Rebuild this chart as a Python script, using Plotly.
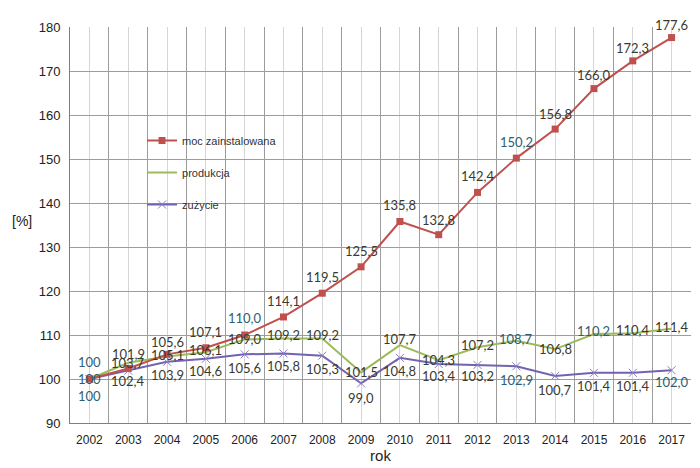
import plotly.graph_objects as go

years = list(range(2002, 2018))
moc = [100, 102.4, 105.6, 107.1, 110.0, 114.1, 119.5, 125.5, 135.8, 132.8, 142.4, 150.2, 156.8, 166.0, 172.3, 177.6]
produkcja = [100, 103.7, 105.1, 106.1, 109.0, 109.2, 109.2, 101.5, 107.7, 104.3, 107.2, 108.7, 106.8, 110.2, 110.4, 111.4]
zuzycie = [100, 101.9, 103.9, 104.6, 105.6, 105.8, 105.3, 99.0, 104.8, 103.4, 103.2, 102.9, 100.7, 101.4, 101.4, 102.0]
names = ["moc zainstalowana", "produkcja", "zużycie"]


def fmt(v, first):
    return "100" if first else f"{v:.1f}".replace(".", ",")


def labels(vals):
    return [fmt(v, i == 0) for i, v in enumerate(vals)]


TEAL = "#2e5e6e"
DARK = "#3a3a30"

# label vertical offsets in pixels (style only)
moc_shift = [0, -13, 12, 16, 17, 16, 16, 16, 16, 15, 16, 16, 15, 14, 13, 13]
prod_shift = [17, 0, 2, 2, 0, 4, 4, 0, 6, 0, 2, 2, 0, 3, 3, 2]
zuz_shift = [-17, 17, -13, -12, -14, -13, -13, -15, -13, -12, -11, -14, -14, -13, -13, -12]

moc_col = [TEAL, DARK, DARK, DARK, TEAL, DARK, DARK, DARK, DARK, DARK, DARK, TEAL, DARK, DARK, DARK, DARK]
prod_col = [TEAL, DARK, DARK, DARK, DARK, DARK, DARK, DARK, DARK, DARK, DARK, TEAL, DARK, TEAL, DARK, DARK]
zuz_col = [TEAL, DARK, DARK, DARK, DARK, DARK, DARK, DARK, DARK, DARK, DARK, TEAL, DARK, DARK, DARK, TEAL]

LBL_FONT = "Lato"
LBL_SIZE = 13

fig = go.Figure()
fig.add_trace(go.Scatter(
    x=years, y=zuzycie, name=names[2], mode="lines+markers",
    line=dict(color="#7262b0", width=2),
    marker=dict(symbol="x-thin", size=8, line=dict(color="#8a7cc4", width=1), color="#8a7cc4"),
    legendgroup="c", legendrank=3,
))
fig.add_trace(go.Scatter(
    x=years, y=produkcja, name=names[1], mode="lines",
    line=dict(color="#9bbb59", width=2),
    legendgroup="b", legendrank=2,
))
fig.add_trace(go.Scatter(
    x=years, y=moc, name=names[0], mode="lines+markers",
    line=dict(color="#c0504d", width=2),
    marker=dict(symbol="square", size=7, color="#c0504d"),
    legendgroup="a", legendrank=1, cliponaxis=False,
))

annotations = []
for vals, shifts, cols in ((moc, moc_shift, moc_col), (produkcja, prod_shift, prod_col),
                           (zuzycie, zuz_shift, zuz_col)):
    for yr, v, t, s, c in zip(years, vals, labels(vals), shifts, cols):
        annotations.append(dict(x=yr, y=v, xref="x", yref="y", text=t, showarrow=False,
                                yshift=s, font=dict(family=LBL_FONT, size=LBL_SIZE, color=c)))

annotations.append(dict(text="[%]", xref="paper", yref="paper", x=-0.097, y=0.51,
                        showarrow=False, font=dict(size=14, color="#222")))

fig.update_layout(
    width=700, height=468,
    margin=dict(l=70, r=9, t=27, b=45),
    paper_bgcolor="white", plot_bgcolor="white",
    font=dict(family="Liberation Sans", color="#222"),
    legend=dict(x=0.116, y=0.75, xanchor="left", yanchor="top",
                font=dict(family="Liberation Sans", size=11, color="#333"),
                tracegroupgap=13, bgcolor="rgba(0,0,0,0)"),
    xaxis=dict(
        range=[2001.5, 2017.5], tickmode="array", tickvals=years,
        ticktext=[str(y) for y in years],
        showgrid=True, gridcolor="#d6d6d6", gridwidth=1,
        minor=dict(tick0=2001.5, dtick=1, showgrid=True, gridcolor="#9c9c9c", gridwidth=1),
        showline=True, linecolor="#7f7f7f", linewidth=1,
        tickfont=dict(size=12, color="#222"), ticks="", ticklabelstandoff=6,
        title=dict(text="rok", font=dict(size=15, color="#222"), standoff=2),
        zeroline=False,
    ),
    yaxis=dict(
        range=[90, 180], dtick=10, tick0=90,
        showgrid=True, gridcolor="#9c9c9c", gridwidth=1,
        showline=True, linecolor="#7f7f7f", linewidth=1,
        tickfont=dict(size=13, color="#222"), ticks="", ticklabelstandoff=6,
        zeroline=False,
    ),
    annotations=annotations,
)

fig.write_html("out.html")
